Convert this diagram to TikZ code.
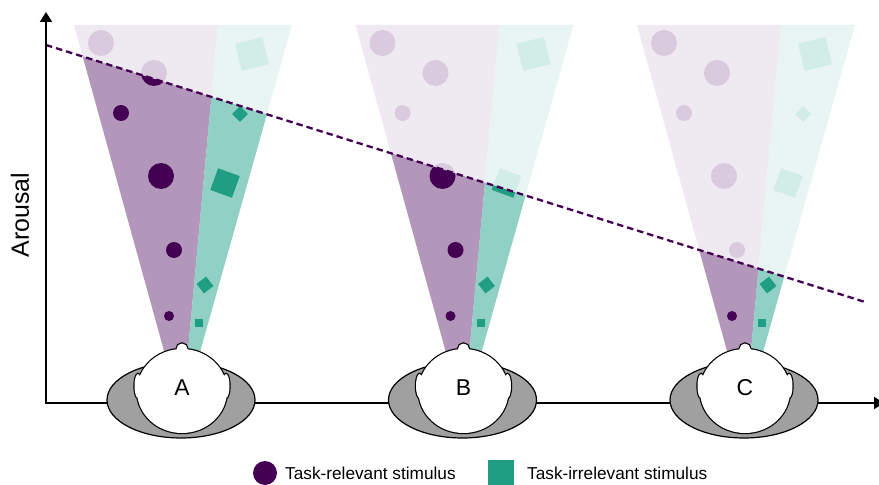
\documentclass[tikz,border=0pt]{standalone}
\usepackage{fontspec}
\setmainfont{Liberation Sans}
\usetikzlibrary{arrows.meta}
\definecolor{stimP}{HTML}{440154}
\definecolor{stimT}{HTML}{1F9E84}
\definecolor{fadeP}{HTML}{D9CADD}
\definecolor{fadeT}{HTML}{D2ECE7}
\definecolor{coneLP}{HTML}{EFE9F1}
\definecolor{coneLT}{HTML}{E8F5F2}
\definecolor{coneDP}{HTML}{B397BA}
\definecolor{coneDT}{HTML}{91D0C4}
\definecolor{bodyG}{HTML}{A0A0A0}

\newcommand\stimset[4]{%
  \fill[#2] (101+#1,43) circle[radius=13];
  \fill[#2] (154+#1,73) circle[radius=13];
  \fill[#2] (121+#1,113) circle[radius=8];
  \fill[#2] (161+#1,176) circle[radius=13];
  \fill[#2] (174+#1,250) circle[radius=8];
  \fill[#2] (169+#1,316) circle[radius=5];
  \fill[#3,shift={(252+#1,54)},rotate=14] (-14,-14) rectangle (14,14);
  \ifnum#4=1 \fill[#3,shift={(240+#1,114)},rotate=45] (-5.5,-5.5) rectangle (5.5,5.5);\fi
  \fill[#3,shift={(225+#1,183)},rotate=-20] (-11.5,-11.5) rectangle (11.5,11.5);
  \fill[#3,shift={(205+#1,285)},rotate=38] (-6,-6) rectangle (6,6);
  \fill[#3,shift={(199+#1,323)}] (-4,-4) rectangle (4,4);
}
\newcommand\conepair[3]{%
  \fill[#2] (182+#1,416) -- (74+#1,25) -- (218+#1,25) -- cycle;
  \fill[#3] (182+#1,416) -- (218+#1,25) -- (292+#1,25) -- cycle;
}
\newcommand\headshape[1]{%
  (182+#1,391) ellipse[x radius=45, y radius=42]
  (182+#1,349) circle[radius=5.5]
  (138+#1,386) ellipse[x radius=3.5, y radius=12]
  (226+#1,386) ellipse[x radius=3.5, y radius=12]
}
\newcommand\headfig[2]{%
  \draw[fill=bodyG, line width=1.2bp] (181+#1,400) ellipse[x radius=74, y radius=38];
  \draw[line width=2.4bp] \headshape{#1};
  \fill[white] \headshape{#1};
  \node[headlbl] (head#2) at (182+#1,388) {#2};
}

\tikzset{
  headlbl/.style={font=\fontsize{23}{26}\selectfont, inner sep=0pt},
  legtxt/.style={font=\fontsize{17.3}{20}\selectfont, anchor=west, inner sep=0pt},
  axisline/.style={line width=2bp, line join=miter,
    {Triangle[length=10bp,width=12bp]}-{Triangle[length=10bp,width=12bp]}},
  dashline/.style={stimP, line width=2.3bp, dash pattern=on 6.5bp off 4bp}
}

\begin{document}
\begin{tikzpicture}[x=1bp,y=-1bp]
\useasboundingbox (0,0) rectangle (879,485);

% light cones and faded stimuli
\foreach \o in {0,281.5,563} {\conepair{\o}{coneLP}{coneLT}}
\stimset{0}{fadeP}{fadeT}{1}
\stimset{281.5}{fadeP}{fadeT}{0}
\stimset{563}{fadeP}{fadeT}{1}

% below the arousal line
\begin{scope}
  \clip (0,30.56) -- (879,306.4) -- (879,485) -- (0,485) -- cycle;
  \foreach \o in {0,281.5,563} {\conepair{\o}{coneDP}{coneDT}}
  \stimset{0}{stimP}{stimT}{1}
  \stimset{281.5}{stimP}{stimT}{0}
  \stimset{563}{stimP}{stimT}{1}
\end{scope}

% arousal line
\coordinate (d1) at (46,45);
\coordinate (d2) at (865,302);
\draw[dashline] (d1) -- (d2);

% axes
\coordinate (ytop) at (46,12);
\coordinate (orig) at (46,403);
\coordinate (xend) at (884,403);
\draw[axisline] (ytop) -- (orig) -- (xend);
\node[rotate=90, font=\fontsize{25}{28}\selectfont, inner sep=0pt] (arousal) at (20,215) {Arousal};

% heads
\headfig{0}{A}
\headfig{281.5}{B}
\headfig{563}{C}

% legend
\fill[stimP] (265,473) circle[radius=12];
\node[legtxt] (legrel) at (285,473.5) {Task-relevant stimulus};
\fill[stimT] (488,460) rectangle (514,486);
\node[legtxt] (legirr) at (527,473.5) {Task-irrelevant stimulus};
\end{tikzpicture}
\end{document}
